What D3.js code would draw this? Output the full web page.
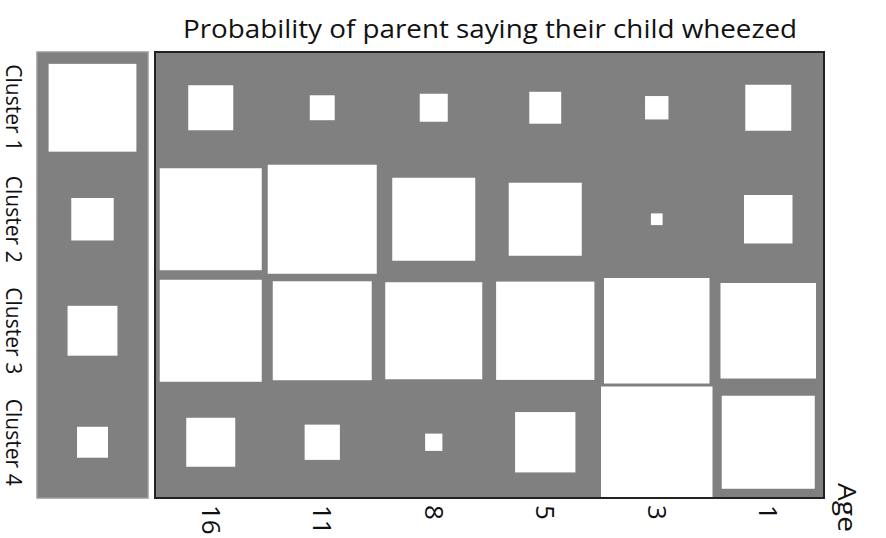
<!DOCTYPE html>
<html lang="en">
<head>
<meta charset="UTF-8">
<title>Hinton diagram</title>
<script src="https://d3js.org/d3.v7.min.js"></script>
<style>
  body { font-family: "Open Sans", sans-serif; margin: 0; background: #fff; }
  svg { display: block; }
</style>
</head>
<body>

<svg id="chart"></svg>

<script>
const width = 886, height = 538;
const svg = d3.select("#chart").attr("width", width).attr("height", height);

// ==== data ====
const clusters = ["Cluster 1", "Cluster 2", "Cluster 3", "Cluster 4"];
const ages = ["16", "11", "8", "5", "3", "1"];
// cluster share (left panel)
const clusterSize = [0.62, 0.145, 0.20, 0.077];
// probability of wheeze, one array per cluster, ages in the order above
const cluster1 = [0.163, 0.050, 0.063, 0.082, 0.044, 0.170];
const cluster2 = [0.837, 0.956, 0.554, 0.429, 0.011, 0.189];
const cluster3 = [0.837, 0.788, 0.757, 0.777, 0.895, 0.734];
const cluster4 = [0.193, 0.100, 0.024, 0.293, 1.000, 0.696];
const probs = [cluster1, cluster2, cluster3, cluster4];

const cells = [];
probs.forEach((row, i) => row.forEach((v, j) => cells.push({ cluster: clusters[i], age: ages[j], value: v })));

// ==== layout ====
const main = { x0: 155, x1: 824, y0: 52, y1: 498 };
const side = { x0: 37, x1: 148 };

const x = d3.scaleBand().domain(ages).range([main.x0, main.x1]);
const y = d3.scaleBand().domain(clusters).range([main.y0, main.y1]);
const cell = x.bandwidth();
// square side ~ sqrt(value) so area ~ value
const s = d3.scaleSqrt().domain([0, 1]).range([0, cell]);

// left panel
svg.append("rect")
  .attr("x", side.x0).attr("y", main.y0)
  .attr("width", side.x1 - side.x0).attr("height", main.y1 - main.y0)
  .attr("fill", "#808080").attr("stroke", "#9a9a9a").attr("stroke-width", 1.5);

const sideCx = (side.x0 + side.x1) / 2;
svg.selectAll("rect.side")
  .data(clusters)
  .enter()
  .append("rect")
  .attr("class", "side")
  .attr("x", (d, i) => sideCx - s(clusterSize[i]) / 2)
  .attr("y", (d, i) => y(d) + cell / 2 - s(clusterSize[i]) / 2)
  .attr("width", (d, i) => s(clusterSize[i]))
  .attr("height", (d, i) => s(clusterSize[i]))
  .attr("fill", "#fff");

// main panel
svg.append("rect")
  .attr("x", main.x0).attr("y", main.y0)
  .attr("width", main.x1 - main.x0).attr("height", main.y1 - main.y0)
  .attr("fill", "#808080");

svg.selectAll("rect.cell")
  .data(cells)
  .enter()
  .append("rect")
  .attr("class", "cell")
  .attr("x", d => x(d.age) + cell / 2 - s(d.value) / 2)
  .attr("y", d => y(d.cluster) + cell / 2 - s(d.value) / 2)
  .attr("width", d => s(d.value))
  .attr("height", d => s(d.value))
  .attr("fill", "#fff");

svg.append("rect")
  .attr("x", main.x0).attr("y", main.y0)
  .attr("width", main.x1 - main.x0).attr("height", main.y1 - main.y0)
  .attr("fill", "none").attr("stroke", "#222").attr("stroke-width", 2);

// title
svg.append("text")
  .attr("x", 490).attr("y", 38)
  .attr("text-anchor", "middle")
  .attr("font-size", 25)
  .attr("textLength", 614).attr("lengthAdjust", "spacingAndGlyphs")
  .attr("fill", "#111")
  .text("Probability of parent saying their child wheezed");

// row labels, rotated clockwise
svg.selectAll("text.row")
  .data(clusters)
  .enter()
  .append("text")
  .attr("class", "row")
  .attr("transform", d => `translate(6,${y(d) + cell / 2}) rotate(90)`)
  .attr("text-anchor", "middle")
  .attr("font-size", 21)
  .attr("textLength", 87).attr("lengthAdjust", "spacingAndGlyphs")
  .attr("fill", "#111")
  .text(d => d);

// age ticks, rotated clockwise
svg.selectAll("text.age")
  .data(ages)
  .enter()
  .append("text")
  .attr("class", "age")
  .attr("transform", d => `translate(${x(d) + cell / 2 - 9},505) rotate(90)`)
  .attr("font-size", 26)
  .attr("fill", "#111")
  .text(d => d);

svg.append("text")
  .attr("transform", "translate(838,483) rotate(90)")
  .attr("font-size", 26)
  .attr("textLength", 49).attr("lengthAdjust", "spacingAndGlyphs")
  .attr("fill", "#111")
  .text("Age");
</script>
</body>
</html>
